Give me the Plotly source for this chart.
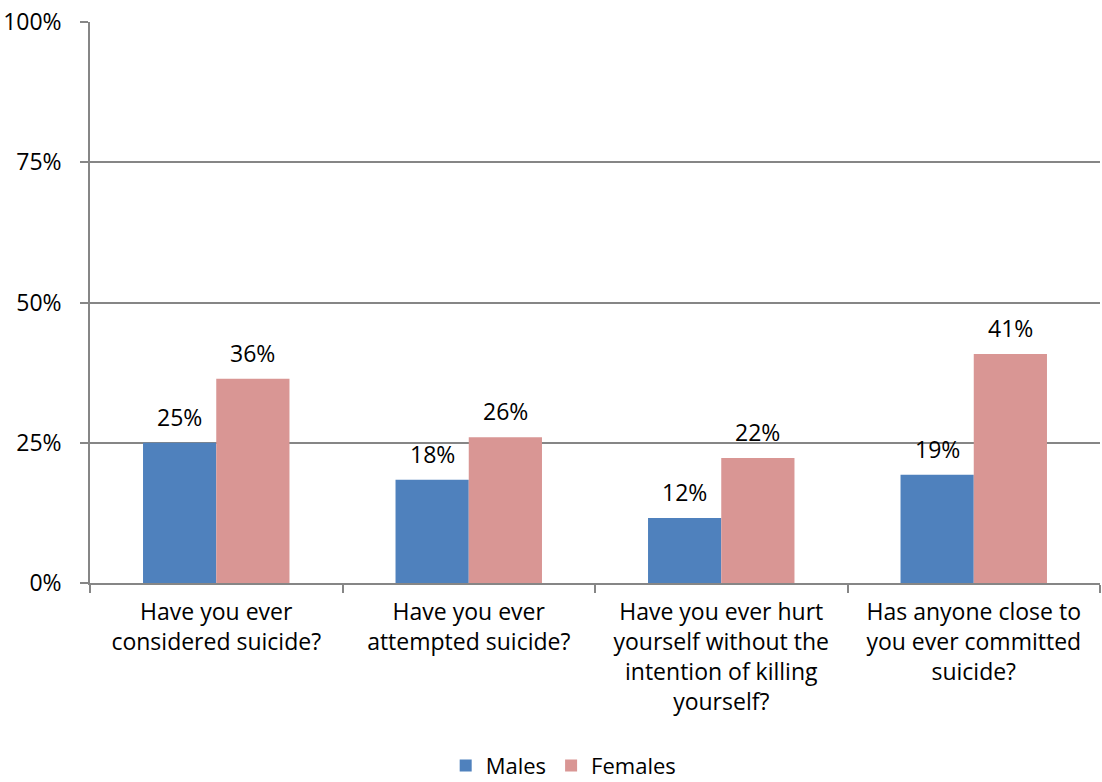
import plotly.graph_objects as go

categories = [
    "Have you ever<br>considered suicide?",
    "Have you ever<br>attempted suicide?",
    "Have you ever hurt<br>yourself without the<br>intention of killing<br>yourself?",
    "Has anyone close to<br>you ever committed<br>suicide?",
]
males = [25.0, 18.4, 11.6, 19.3]
females = [36.4, 26.0, 22.3, 40.8]
male_labels = ["25%", "18%", "12%", "19%"]
female_labels = ["36%", "26%", "22%", "41%"]
y_ticks = [0, 25, 50, 75, 100]
y_tick_labels = ["0%", "25%", "50%", "75%", "100%"]

FONT = "Open Sans, Calibri, Carlito, sans-serif"
FS = 23
male_color = "#4F81BD"
female_color = "#D99694"

fig = go.Figure()
fig.add_trace(go.Bar(name="Males", x=categories, y=males, marker_color=male_color,
                     marker_line_width=0))
fig.add_trace(go.Bar(name="Females", x=categories, y=females, marker_color=female_color,
                     marker_line_width=0))

annotations = []
for cat, v, t in zip(categories, males, male_labels):
    annotations.append(dict(x=cat, y=v, text=t, xref="x", yref="y", showarrow=False,
                            xshift=-36.5, yshift=8, yanchor="bottom",
                            font=dict(size=FS, color="#000000", family=FONT)))
for cat, v, t in zip(categories, females, female_labels):
    annotations.append(dict(x=cat, y=v, text=t, xref="x", yref="y", showarrow=False,
                            xshift=36.5, yshift=8, yanchor="bottom",
                            font=dict(size=FS, color="#000000", family=FONT)))

fig.update_layout(
    width=1102, height=782,
    margin=dict(l=90, r=2, t=22, b=199),
    paper_bgcolor="white", plot_bgcolor="white",
    barmode="group", bargap=0.42, bargroupgap=0,
    font=dict(family=FONT, size=FS, color="#000000"),
    showlegend=True,
    legend=dict(orientation="h", x=0.469, xanchor="center",
                yref="container", y=0.021, yanchor="middle",
                font=dict(size=22, family=FONT), itemwidth=30, traceorder="normal",
                borderwidth=0),
    annotations=annotations,
)
fig.update_xaxes(showline=True, linecolor="#868686", linewidth=1.5,
                 ticks="outside", tickson="boundaries", ticklen=8, tickcolor="#868686",
                 tickwidth=1.5, showgrid=False, tickfont=dict(size=FS, family=FONT),
                 automargin=False, ticklabelstandoff=8)
fig.update_yaxes(range=[0, 100], tickvals=y_ticks, ticktext=y_tick_labels,
                 showline=True, linecolor="#868686", linewidth=1.5,
                 ticks="outside", ticklen=8, tickcolor="#868686", tickwidth=1.5,
                 showgrid=True, gridcolor="#868686", gridwidth=1.5, zeroline=False,
                 tickfont=dict(size=FS, family=FONT), ticklabelstandoff=14,
                 ticklabeloverflow="allow", automargin=False)

# remove the browser's default 8px body margin so the figure fills the window
fig.write_html("out.html",
               config={"displayModeBar": False},
               post_script="document.body.style.margin='0';document.body.style.overflow='hidden';")
